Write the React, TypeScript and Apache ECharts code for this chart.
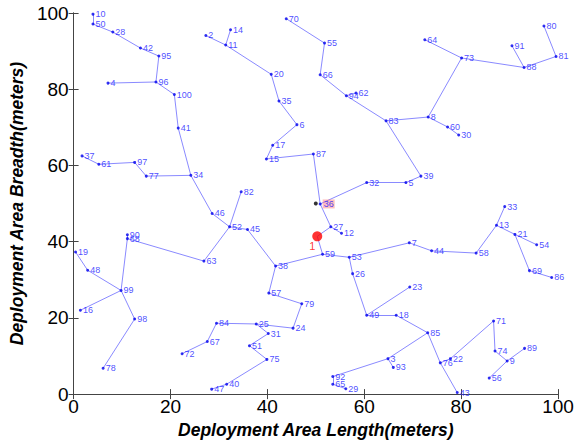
import React, { useEffect, useRef } from "react";
import * as echarts from "echarts";

// node i+1 coordinates (meters)
const nodeX = [
  50.3, 27.3, 64.9, 7.1, 68.6, 46.1, 69.3, 73.2, 89.5, 4.0,
  31.4, 55.3, 87.3, 32.4, 39.8, 1.4, 41.1, 66.6, 0.4, 40.8,
  91.1, 77.8, 69.4, 45.3, 37.7, 57.6, 53.1, 8.1, 56.2, 79.5,
  40.2, 60.5, 89.0, 24.2, 42.4, 50.9, 1.75, 41.7, 71.7, 31.6,
  21.6, 13.8, 79.2, 73.9, 35.9, 28.6, 28.5, 2.9, 60.5, 4.0,
  36.3, 32.2, 56.9, 95.6, 51.8, 85.8, 40.3, 83.1, 51.4, 77.2,
  5.2, 58.3, 26.9, 72.5, 53.5, 50.9, 27.6, 11.1, 94.1, 43.9,
  86.7, 22.4, 80.1, 87.0, 39.9, 75.7, 15.0, 6.1, 47.1, 97.1,
  99.6, 34.6, 64.5, 29.5, 73.1, 98.7, 49.5, 93.0, 93.1, 11.1,
  90.5, 53.5, 66.0, 56.3, 17.6, 17.0, 12.6, 12.6, 9.8, 20.8,
];
const nodeY = [
  41.4, 94.1, 9.3, 81.6, 55.5, 70.7, 39.7, 72.7, 8.7, 99.7,
  91.6, 42.2, 44.3, 95.6, 61.7, 22.0, 65.3, 20.7, 37.3, 83.9,
  41.9, 9.3, 28.1, 17.3, 18.4, 31.6, 43.9, 95.0, 1.4, 68.0,
  15.9, 55.5, 49.2, 57.4, 76.9, 49.9, 62.5, 33.6, 57.2, 2.6,
  69.8, 90.8, 0.4, 37.6, 43.2, 47.4, 1.3, 32.5, 20.7, 97.1,
  12.7, 43.9, 35.9, 39.2, 92.1, 4.2, 26.5, 37.0, 36.7, 70.1,
  60.3, 79.0, 34.9, 93.0, 2.6, 83.8, 13.8, 40.8, 32.4, 98.5,
  19.2, 10.6, 88.2, 11.3, 9.1, 8.2, 57.2, 6.8, 23.7, 96.6,
  88.6, 53.1, 71.7, 18.6, 16.1, 30.6, 63.0, 85.7, 12.0, 41.8,
  91.4, 4.6, 7.0, 78.3, 88.7, 81.9, 60.8, 19.7, 27.2, 78.6,
];
const nodeLabels = nodeX.map((_, i) => String(i + 1));

const edgeFrom = [
  10, 50, 28, 42, 95, 4, 96, 100, 41,
  70, 14, 2, 11, 20, 35, 6, 17, 15,
  55, 66, 94, 94, 83, 8, 83, 8, 60,
  64, 73, 91, 88, 80,
  37, 61, 97, 77, 34, 46, 82, 52, 52, 45,
  90, 68, 68, 19, 48, 16, 99, 98,
  87, 36, 32, 5, 39, 27, 27, 1, 59, 38, 53, 7, 44, 58, 33, 13, 21, 21, 69,
  53, 26, 49, 49, 18, 85, 3, 3, 92, 65, 85, 76, 76, 22, 71, 74, 89, 9,
  38, 57, 79, 24, 25, 84, 67, 25, 31, 51, 75, 40,
];
const edgeTo = [
  50, 28, 42, 95, 96, 96, 100, 41, 34,
  55, 11, 11, 20, 35, 6, 17, 15, 87,
  66, 94, 62, 83, 8, 73, 39, 60, 30,
  73, 88, 88, 81, 81,
  61, 97, 77, 34, 46, 52, 52, 45, 63, 38,
  68, 63, 99, 48, 99, 99, 98, 78,
  36, 27, 36, 32, 5, 12, 1, 59, 53, 59, 7, 44, 58, 13, 13, 21, 54, 69, 86,
  26, 49, 23, 18, 85, 3, 93, 92, 65, 29, 76, 43, 22, 71, 74, 9, 9, 56,
  57, 79, 24, 25, 84, 67, 72, 31, 51, 75, 40, 47,
];

const sinkX = [50.0];
const sinkY = [50.0];
const xTicks = [0, 100, 20];
const yTicks = [0, 100, 20];

export default function App() {
  const ref = useRef<HTMLDivElement>(null);
  useEffect(() => {
    if (!ref.current) return;
    const chart = echarts.init(ref.current, null, { renderer: "svg" });
    const font = "Liberation Sans";
    const edges = edgeFrom.map((a, i) => {
      const b = edgeTo[i];
      return { coords: [[nodeX[a - 1], nodeY[a - 1]], [nodeX[b - 1], nodeY[b - 1]]] };
    });
    const nodes = nodeX
      .map((x, i) => ({ name: nodeLabels[i], value: [x, nodeY[i]], id: i + 1 }))
      .filter((n) => n.id !== 1)
      .map((n) =>
        n.id === 36
          ? {
              name: n.name,
              value: n.value,
              label: { backgroundColor: "rgba(255,110,110,0.55)", padding: [0, 1] },
            }
          : { name: n.name, value: n.value }
      );
    const axisCommon = {
      type: "value" as const,
      splitLine: { show: false },
      axisLine: { show: true, lineStyle: { color: "#444", width: 1 } },
      axisTick: { show: true, inside: true, length: 5, lineStyle: { color: "#444" } },
    };
    const titleStyle = {
      color: "#000",
      fontSize: 17.5,
      fontWeight: "bold" as const,
      fontStyle: "italic" as const,
      fontFamily: font,
    };
    chart.setOption({
      animation: false,
      backgroundColor: "#fff",
      grid: { left: 71.5, right: 24, top: 13, bottom: 47.5, containLabel: false },
      xAxis: [
        {
          ...axisCommon,
          position: "bottom",
          min: xTicks[0],
          max: xTicks[1],
          interval: xTicks[2],
          axisLabel: { color: "#000", fontSize: 19, fontFamily: font, margin: 3 },
          name: "Deployment Area Length(meters)",
          nameLocation: "middle",
          nameGap: 20,
          nameTextStyle: titleStyle,
        },
        {
          ...axisCommon,
          position: "top",
          min: xTicks[0],
          max: xTicks[1],
          interval: xTicks[2],
          axisLabel: { show: false },
        },
      ],
      yAxis: [
        {
          ...axisCommon,
          position: "left",
          min: yTicks[0],
          max: yTicks[1],
          interval: yTicks[2],
          axisLabel: { color: "#000", fontSize: 19, fontFamily: font, margin: 5 },
          name: "Deployment Area Breadth(meters)",
          nameLocation: "middle",
          nameGap: 39,
          nameTextStyle: titleStyle,
        },
        {
          ...axisCommon,
          position: "right",
          min: yTicks[0],
          max: yTicks[1],
          interval: yTicks[2],
          axisLabel: { show: false },
        },
      ],
      series: [
        {
          type: "lines",
          coordinateSystem: "cartesian2d",
          xAxisIndex: 0,
          yAxisIndex: 0,
          polyline: false,
          silent: true,
          lineStyle: { color: "#8a8aff", width: 1, opacity: 1, curveness: 0 },
          data: edges,
        },
        {
          type: "scatter",
          xAxisIndex: 0,
          yAxisIndex: 0,
          symbol: "circle",
          symbolSize: 3,
          itemStyle: { color: "#0000ee" },
          label: {
            show: true,
            formatter: "{b}",
            position: "right",
            distance: 1,
            color: "#1a1aff",
            fontSize: 9,
            fontFamily: font,
          },
          data: nodes,
        },
        {
          type: "scatter",
          xAxisIndex: 0,
          yAxisIndex: 0,
          symbol: "circle",
          symbolSize: 4,
          itemStyle: { color: "#000" },
          data: sinkX.map((x, i) => [x, sinkY[i]]),
        },
        {
          type: "scatter",
          xAxisIndex: 0,
          yAxisIndex: 0,
          symbol: "circle",
          symbolSize: 10,
          itemStyle: { color: "#ff0000" },
          label: {
            show: true,
            formatter: "{b}",
            position: "bottom",
            distance: 0,
            offset: [-5, -1],
            color: "#ff0000",
            fontSize: 11,
            fontFamily: font,
          },
          data: [{ name: nodeLabels[0], value: [nodeX[0], nodeY[0]] }],
        },
      ],
    });
    return () => chart.dispose();
  }, []);
  return (
    <div
      ref={ref}
      style={{ position: "fixed", left: 0, top: 0, width: 582, height: 444, background: "#fff" }}
    />
  );
}
